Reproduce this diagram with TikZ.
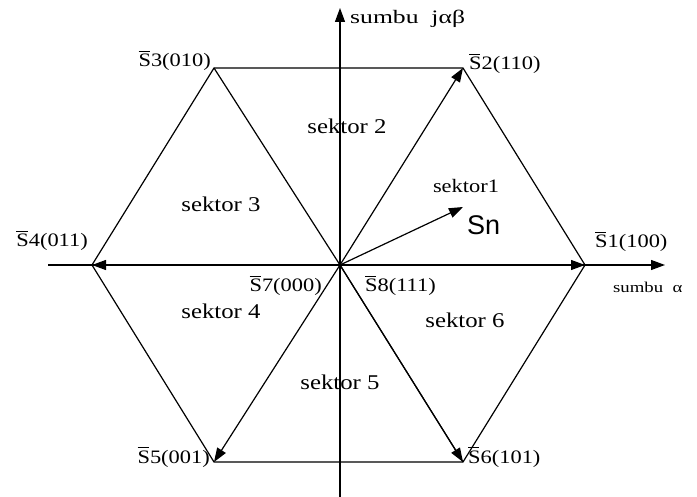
\documentclass[tikz,border=0pt]{standalone}
\usepackage{fontspec}
\usepackage{graphicx}
\setmainfont{Liberation Serif}
\newfontfamily\snfont{Liberation Sans}
\usetikzlibrary{arrows.meta}
\newcommand{\Sb}{\rlap{\raisebox{0.78em}{\rule{0.5em}{0.06em}}}S}
\newcommand{\W}[1]{\scalebox{1.18}[1]{#1}}
\begin{document}
\begin{tikzpicture}[x=1pt,y=-1pt,
  line/.style={line width=1.2pt},
  vec/.style={line width=1.2pt,-{Triangle[length=14pt,width=10pt]}},
  lab/.style={font=\fontsize{19}{22}\selectfont,inner sep=0pt},
  sek/.style={font=\fontsize{21}{24}\selectfont,inner sep=0pt}]
\useasboundingbox (0,0) rectangle (697,497);
\coordinate (O) at (340,265);
\coordinate (S1) at (585,265);
\coordinate (S2) at (463,68);
\coordinate (S3) at (214,68);
\coordinate (S4) at (92,265);
\coordinate (S5) at (214,462);
\coordinate (S6) at (463,462);
\coordinate (XL) at (48,265);
\coordinate (XR) at (665,265);
\coordinate (YB) at (340,497);
\coordinate (YT) at (340,8);
\coordinate (Sn) at (463,207);
% axes
\draw[vec] (XL) -- (XR);
\draw[vec] (YB) -- (YT);
% hexagon
\draw[line] (S1) -- (S2) -- (S3) -- (S4) -- (S5) -- (S6) -- cycle;
\draw[line] (S3) -- (O) -- (S6);
% vectors
\draw[vec] (O) -- (S1);
\draw[vec] (O) -- (S2);
\draw[vec] (O) -- (S4);
\draw[vec] (O) -- (S5);
\draw[vec] (O) -- (S6);
\draw[vec] (O) -- (Sn);
% labels
\node[lab,anchor=base west] (l1) at (595,248) {\W{\Sb1(100)}};
\node[lab,anchor=base west] (l2) at (469,70) {\W{\Sb2(110)}};
\node[lab,anchor=base east] (l3) at (211,67) {\W{\Sb3(010)}};
\node[lab,anchor=base east] (l4) at (88,247) {\W{\Sb4(011)}};
\node[lab,anchor=base east] (l5) at (210,463) {\W{\Sb5(001)}};
\node[lab,anchor=base west] (l6) at (468,463) {\W{\Sb6(101)}};
\node[lab,anchor=base east] (l7) at (322,292) {\W{\Sb7(000)}};
\node[lab,anchor=base west] (l8) at (365,292) {\W{\Sb8(111)}};
\node[font=\fontsize{19}{22}\selectfont,inner sep=0pt,anchor=base west] (ya) at (350,24) {\scalebox{1.35}[1]{sumbu\ \ jαβ}};
\node[font=\fontsize{15}{18}\selectfont,inner sep=0pt,anchor=base west] (xa) at (613,293) {\scalebox{1.25}[1]{sumbu\ \ α}};
\node[font=\snfont\fontsize{27}{30}\selectfont,inner sep=0pt,anchor=base west] (snl) at (467,235) {Sn};
\node[font=\fontsize{19}{22}\selectfont,inner sep=0pt,anchor=base] (k1) at (466,193) {\W{sektor1}};
\node[sek,anchor=base] (k2) at (347,134) {\W{sektor 2}};
\node[sek,anchor=base] (k3) at (221,212) {\W{sektor 3}};
\node[sek,anchor=base] (k4) at (221,319) {\W{sektor 4}};
\node[sek,anchor=base] (k5) at (340,390) {\W{sektor 5}};
\node[sek,anchor=base] (k6) at (465,328) {\W{sektor 6}};
\end{tikzpicture}
\end{document}
